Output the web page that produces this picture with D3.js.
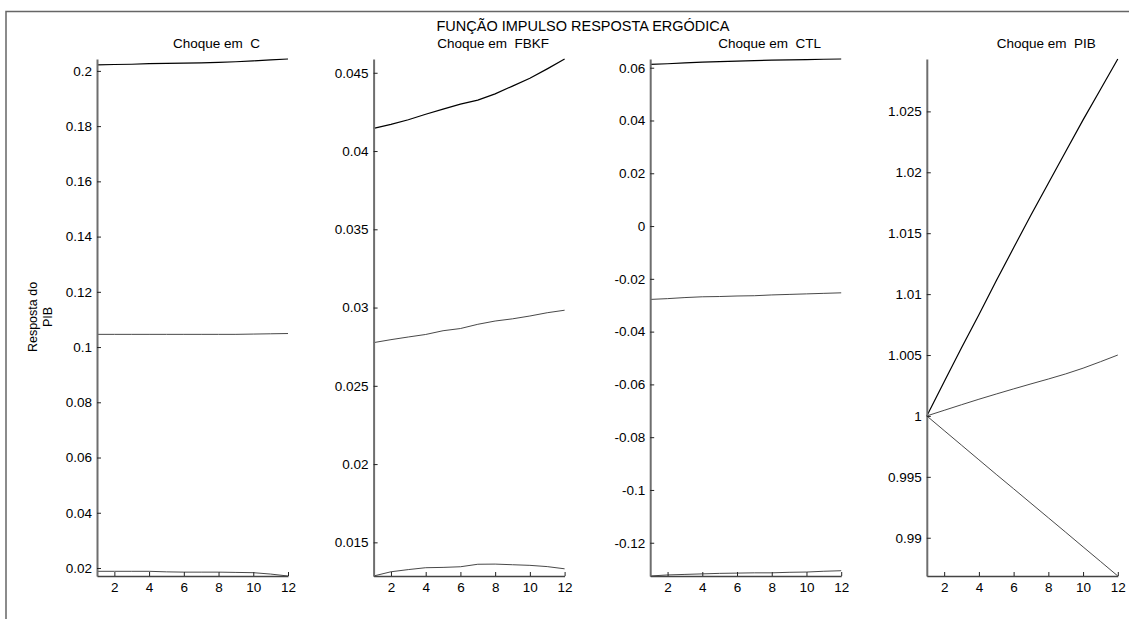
<!DOCTYPE html>
<html>
<head>
<meta charset="utf-8">
<script src="https://cdn.jsdelivr.net/npm/d3@7"></script>
<style>
  html, body { margin: 0; padding: 0; background: #fff; }
  svg { display: block; font-family: "Liberation Sans", Arial, sans-serif; }
</style>
</head>
<body>
<svg id="chart" width="1129" height="619"></svg>
<script>
// Horizons of the impulse responses
const periods = [1, 2, 3, 4, 5, 6, 7, 8, 9, 10, 11, 12];

// Shock names (one panel each)
const shocks = ["C", "FBKF", "CTL", "PIB"];

// Response of PIB to a shock in C: upper band, point response, lower band
const cUpper = [0.2022, 0.2023, 0.2024, 0.2026, 0.2027, 0.2028, 0.2029, 0.2031, 0.2033, 0.2036, 0.2040, 0.2043];
const cMid   = [0.1046, 0.1046, 0.1046, 0.1046, 0.1046, 0.1046, 0.1046, 0.1046, 0.1046, 0.1047, 0.1048, 0.1049];
const cLower = [0.0188, 0.0188, 0.0188, 0.0188, 0.0186, 0.0185, 0.0185, 0.0185, 0.0184, 0.0183, 0.0178, 0.0171];

// Shock in FBKF
const fUpper = [0.04145, 0.04170, 0.04200, 0.04235, 0.04268, 0.04300, 0.04325, 0.04365, 0.04415, 0.04465, 0.04525, 0.04588];
const fMid   = [0.02776, 0.02795, 0.02812, 0.02828, 0.02852, 0.02866, 0.02893, 0.02914, 0.02928, 0.02946, 0.02967, 0.02983];
const fLower = [0.01285, 0.01312, 0.01326, 0.01338, 0.01340, 0.01344, 0.01360, 0.01361, 0.01357, 0.01353, 0.01345, 0.01331];

// Shock in CTL
const tUpper = [0.0613, 0.0615, 0.0618, 0.0621, 0.0623, 0.0625, 0.0627, 0.0629, 0.0630, 0.0631, 0.0632, 0.0633];
const tMid   = [-0.0278, -0.0275, -0.0271, -0.0268, -0.0267, -0.0265, -0.0264, -0.0261, -0.0259, -0.0257, -0.0255, -0.0253];
const tLower = [-0.1326, -0.1322, -0.1320, -0.1318, -0.1316, -0.1315, -0.1314, -0.1314, -0.1312, -0.1311, -0.1308, -0.1306];

// Shock in PIB
const pUpper = [1.0, 1.0028, 1.0056, 1.0083, 1.0111, 1.0138, 1.0165, 1.0191, 1.0217, 1.0243, 1.0268, 1.0293];
const pMid   = [1.0, 1.00046, 1.00092, 1.00137, 1.0018, 1.00222, 1.00263, 1.00303, 1.00345, 1.00392, 1.00445, 1.0050];
const pLower = [1.0, 0.99880, 0.99760, 0.99640, 0.99520, 0.99402, 0.99283, 0.99164, 0.99045, 0.98925, 0.98806, 0.98686];

// Tick labels
const xTickLabels = ["2", "4", "6", "8", "10", "12"];
const cTickLabels = ["0.02", "0.04", "0.06", "0.08", "0.1", "0.12", "0.14", "0.16", "0.18", "0.2"];
const fTickLabels = ["0.015", "0.02", "0.025", "0.03", "0.035", "0.04", "0.045"];
const tTickLabels = ["-0.12", "-0.1", "-0.08", "-0.06", "-0.04", "-0.02", "0", "0.02", "0.04", "0.06"];
const pTickLabels = ["0.99", "0.995", "1", "1.005", "1.01", "1.015", "1.02", "1.025"];

const panels = [
  { shock: shocks[0], series: [cUpper, cMid, cLower], ticks: cTickLabels },
  { shock: shocks[1], series: [fUpper, fMid, fLower], ticks: fTickLabels },
  { shock: shocks[2], series: [tUpper, tMid, tLower], ticks: tTickLabels },
  { shock: shocks[3], series: [pUpper, pMid, pLower], ticks: pTickLabels }
];

const svg = d3.select("#chart");

// Figure frame
svg.append("path")
  .attr("d", "M6,640 L6,11.5 L1140,11.5")
  .attr("fill", "none")
  .attr("stroke", "#666")
  .attr("stroke-width", 1.5);

// Figure title
svg.append("text")
  .attr("x", 583)
  .attr("y", 31)
  .attr("text-anchor", "middle")
  .attr("font-size", 14.5)
  .attr("fill", "#000")
  .text("FUNÇÃO IMPULSO RESPOSTA ERGÓDICA");

const plotTop = 59, plotBottom = 576, plotWidth = 191;
const firstLeft = 97, panelStep = 276.6;

panels.forEach((p, i) => {
  const left = firstLeft + i * panelStep;
  const x = d3.scaleLinear().domain(d3.extent(periods)).range([left, left + plotWidth]);
  const all = p.series.flat();
  const y = d3.scaleLinear().domain(d3.extent(all)).range([plotBottom, plotTop]);

  const g = svg.append("g");

  // Lines: upper band, point response, lower band
  const line = d3.line().x((d, k) => x(periods[k])).y(d => y(d));
  p.series.forEach((s, k) => {
    g.append("path")
      .datum(s)
      .attr("fill", "none")
      .attr("stroke", k === 0 ? "#000" : "#333")
      .attr("stroke-width", k === 0 ? 1.2 : 0.9)
      .attr("d", line);
  });

  // Y axis (ticks pointing inward)
  const yAxis = d3.axisLeft(y)
    .tickValues(p.ticks.map(Number))
    .tickFormat((d, k) => p.ticks[k])
    .tickSizeInner(-4)
    .tickSizeOuter(0)
    .tickPadding(5);
  const ya = g.append("g").attr("transform", `translate(${left},0)`).call(yAxis);
  ya.select(".domain").attr("stroke", "#6e6e6e").attr("stroke-width", 2);
  ya.selectAll(".tick line").attr("stroke", "#222");
  ya.selectAll(".tick text").attr("font-size", 13.5).attr("font-family", "Liberation Sans, Arial, sans-serif").attr("fill", "#000");

  // X axis (ticks pointing inward)
  const xAxis = d3.axisBottom(x)
    .tickValues(xTickLabels.map(Number))
    .tickFormat((d, k) => xTickLabels[k])
    .tickSizeInner(-4)
    .tickSizeOuter(0)
    .tickPadding(6);
  const xa = g.append("g").attr("transform", `translate(0,${plotBottom})`).call(xAxis);
  xa.select(".domain").attr("stroke", "#444").attr("stroke-width", 1.5);
  xa.selectAll(".tick line").attr("stroke", "#222");
  xa.selectAll(".tick text").attr("font-size", 13.5).attr("font-family", "Liberation Sans, Arial, sans-serif").attr("fill", "#000");

  // Panel title
  g.append("text")
    .attr("x", left + plotWidth / 2 + 24)
    .attr("y", 48)
    .attr("text-anchor", "middle")
    .attr("font-size", 13.5)
    .attr("fill", "#000")
    .attr("xml:space", "preserve")
    .style("white-space", "pre")
    .text("Choque em  " + p.shock);
});

// Y axis label of the first panel
const yl = svg.append("text")
  .attr("transform", "translate(37,317) rotate(-90)")
  .attr("text-anchor", "middle")
  .attr("font-size", 12.5)
  .attr("fill", "#000");
yl.append("tspan").attr("x", 0).attr("dy", 0).text("Resposta do");
yl.append("tspan").attr("x", 0).attr("dy", 14.5).text("PIB");
</script>
</body>
</html>
